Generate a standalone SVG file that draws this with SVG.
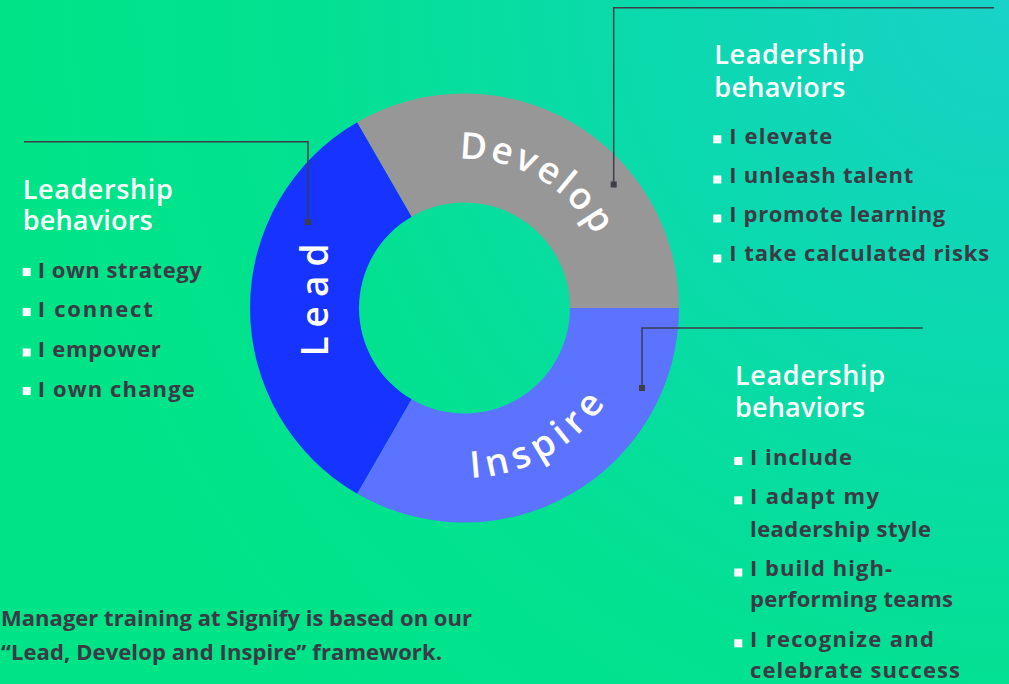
<svg xmlns="http://www.w3.org/2000/svg" width="1009" height="684" viewBox="0 0 1009 684">
  <defs>
    <radialGradient id="bg" gradientUnits="userSpaceOnUse" cx="1009" cy="0" r="1000">
      <stop offset="0" stop-color="#18D2C8"/>
      <stop offset="0.35" stop-color="#0BD9AE"/>
      <stop offset="0.7" stop-color="#02E191"/>
      <stop offset="1" stop-color="#00E487"/>
    </radialGradient>
    <!-- baselines for the curved ring labels -->
    <path id="arc-develop" d="M390,178.96 A149,149 0 0 1 613.5,308"/>
    <path id="arc-inspire" d="M379.5,455.2 A170,170 0 0 0 634.5,308"/>
  </defs>
  <style>
    .ring-label { font-family: "Open Sans", "Liberation Sans", sans-serif; font-size: 37px; font-weight: 600; fill: #ffffff; }
    .heading { font-family: "Open Sans", "Liberation Sans", sans-serif; font-size: 27px; font-weight: 600; fill: #ffffff; }
    .item { font-family: "Open Sans", "Liberation Sans", sans-serif; font-size: 22px; font-weight: 700; fill: #3b3a45; }
    .bullet { fill: #ffffff; }
    .wire { fill: none; stroke: #3d3e48; stroke-width: 1.5; }
    .tip { fill: #3d3e48; }
  </style>

  <rect width="1009" height="684" fill="url(#bg)"/>

  <!-- ring segments -->
  <g id="node-lead">
    <path d="M357.25,493.76 A214.5,214.5 0 0 1 357.25,122.24 L411.75,216.64 A105.5,105.5 0 0 0 411.75,399.36 Z" fill="#1733FF"/>
    <text class="ring-label" transform="translate(327.5,300) rotate(-90)" text-anchor="middle" textLength="113" lengthAdjust="spacing">Lead</text>
  </g>
  <g id="node-develop">
    <path d="M357.25,122.24 A214.5,214.5 0 0 1 679,308 L570,308 A105.5,105.5 0 0 0 411.75,216.64 Z" fill="#979797"/>
    <text class="ring-label" letter-spacing="3"><textPath href="#arc-develop" startOffset="50%" text-anchor="middle">Develop</textPath></text>
  </g>
  <g id="node-inspire">
    <path d="M679,308 A214.5,214.5 0 0 1 357.25,493.76 L411.75,399.36 A105.5,105.5 0 0 0 570,308 Z" fill="#5B73FF"/>
    <text class="ring-label" letter-spacing="6"><textPath href="#arc-inspire" startOffset="50%" text-anchor="middle">Inspire</textPath></text>
  </g>

  <!-- leader lines from the ring to the behavior lists -->
  <g id="connectors">
    <path class="wire" d="M24,141.7 H308 V222"/>
    <rect class="tip" x="305" y="219" width="6" height="6"/>
    <path class="wire" d="M994,7.7 H613.7 V184.5"/>
    <rect class="tip" x="610.7" y="181.5" width="6" height="6"/>
    <path class="wire" d="M922.7,328 H642 V388"/>
    <rect class="tip" x="639" y="385" width="6" height="6"/>
  </g>

  <!-- behavior lists -->
  <g id="panel-lead">
    <text class="heading" x="22.7" y="199.3" textLength="150" lengthAdjust="spacing">Leadership</text>
    <text class="heading" x="22.7" y="230" textLength="130" lengthAdjust="spacing">behaviors</text>
    <rect class="bullet" x="22.7" y="268" width="8" height="8"/>
    <text class="item" x="37.7" y="277.7" textLength="164" lengthAdjust="spacing">I own strategy</text>
    <rect class="bullet" x="22.7" y="308" width="8" height="8"/>
    <text class="item" x="37.7" y="316.7" textLength="115" lengthAdjust="spacing">I connect</text>
    <rect class="bullet" x="22.7" y="348.5" width="8" height="8"/>
    <text class="item" x="37.7" y="357.3" textLength="123" lengthAdjust="spacing">I empower</text>
    <rect class="bullet" x="22.7" y="387" width="8" height="8"/>
    <text class="item" x="37.7" y="396.7" textLength="157" lengthAdjust="spacing">I own change</text>
  </g>

  <g id="panel-develop">
    <text class="heading" x="714.3" y="64" textLength="150" lengthAdjust="spacing">Leadership</text>
    <text class="heading" x="714.3" y="96.7" textLength="131" lengthAdjust="spacing">behaviors</text>
    <rect class="bullet" x="713.3" y="135.3" width="8" height="8"/>
    <text class="item" x="729.3" y="144" textLength="103" lengthAdjust="spacing">I elevate</text>
    <rect class="bullet" x="713.3" y="175.5" width="8" height="8"/>
    <text class="item" x="729.3" y="182.7" textLength="184" lengthAdjust="spacing">I unleash talent</text>
    <rect class="bullet" x="713.3" y="214.5" width="8" height="8"/>
    <text class="item" x="729.3" y="221.7" textLength="216" lengthAdjust="spacing">I promote learning</text>
    <rect class="bullet" x="713.3" y="254.5" width="8" height="8"/>
    <text class="item" x="729.3" y="261" textLength="260" lengthAdjust="spacing">I take calculated risks</text>
  </g>

  <g id="panel-inspire">
    <text class="heading" x="735" y="385.3" textLength="150" lengthAdjust="spacing">Leadership</text>
    <text class="heading" x="735" y="416.7" textLength="130" lengthAdjust="spacing">behaviors</text>
    <rect class="bullet" x="734.3" y="457" width="8" height="8"/>
    <text class="item" x="750" y="465" textLength="102" lengthAdjust="spacing">I include</text>
    <rect class="bullet" x="734.3" y="496.3" width="8" height="8"/>
    <text class="item" x="750" y="504.3" textLength="129" lengthAdjust="spacing">I adapt my</text>
    <text class="item" x="750" y="536.7" textLength="181" lengthAdjust="spacing">leadership style</text>
    <rect class="bullet" x="734.3" y="568.5" width="8" height="8"/>
    <text class="item" x="750" y="575.7" textLength="142" lengthAdjust="spacing">I build high-</text>
    <text class="item" x="750" y="606.7" textLength="203" lengthAdjust="spacing">performing teams</text>
    <rect class="bullet" x="734.3" y="639.3" width="8" height="8"/>
    <text class="item" x="750" y="647.3" textLength="184" lengthAdjust="spacing">I recognize and</text>
    <text class="item" x="750" y="678.3" textLength="210" lengthAdjust="spacing">celebrate success</text>
  </g>

  <g id="caption">
    <text class="item" x="1" y="626" textLength="471" lengthAdjust="spacing">Manager training at Signify is based on our</text>
    <text class="item" x="1" y="660" textLength="441" lengthAdjust="spacing">“Lead, Develop and Inspire” framework.</text>
  </g>
</svg>
